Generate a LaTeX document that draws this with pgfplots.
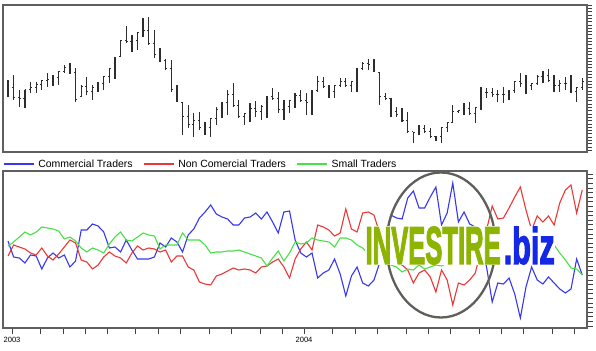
\documentclass[border=0pt]{standalone}
\usepackage{fontspec}
\setmainfont{Liberation Sans}
\newfontfamily\wmfont[FakeBold=3]{Liberation Sans Bold}
\usepackage{graphicx}
\usepackage{pgfplots}
\pgfplotsset{compat=1.18}
\usepackage{pgfplotstable}

\definecolor{framecol}{RGB}{95,95,95}
\definecolor{barcol}{RGB}{45,45,45}
\definecolor{cblue}{RGB}{55,55,240}
\definecolor{cred}{RGB}{235,55,55}
\definecolor{cgreen}{RGB}{70,225,70}
\definecolor{ellcol}{RGB}{95,95,90}
\definecolor{wmgreen}{RGB}{140,180,0}
\definecolor{wmblue}{RGB}{20,40,230}

\pgfplotstableread{
k o h l c
0 60 72 55 64
1 64 77 52 54
2 54 62 45 53
3 53 62 44 62
4 62 70 59 64
5 64 70 59 67
6 67 72 62 71
7 71 79 65 72
8 72 77 66 74
9 74 81 67 80
10 80 87 79 84
11 84 89 78 79
12 79 84 50 52
13 55 67 55 65
14 65 75 57 60
15 60 67 52 64
16 64 70 60 68
17 68 76 62 75
18 75 84 69 83
19 83 95 73 94
20 95 112 95 111
21 111 126 109 110
22 110 117 100 111
23 111 120 102 119
24 119 134 115 121
25 121 135 107 108
26 108 122 94 97
27 97 104 90 91
28 91 93 82 83
29 83 92 60 62
30 62 67 50 51
31 49 49 17 35
32 35 47 24 27
33 27 39 15 31
34 31 40 22 24
35 24 30 17 24
36 24 34 15 33
37 33 45 27 42
38 42 50 34 49
39 49 62 37 57
40 57 69 45 46
41 46 52 34 35
42 35 39 27 38
43 38 49 30 43
44 43 51 35 40
45 40 47 32 45
46 45 56 34 55
47 55 64 52 53
48 53 60 39 42
49 42 52 32 45
50 45 52 39 51
51 51 59 44 56
52 56 62 50 51
53 51 59 37 49
54 49 62 37 61
55 61 76 60 70
56 70 75 64 65
57 65 67 54 60
58 60 67 54 66
59 66 74 65 70
60 70 74 65 66
61 66 71 60 70
62 70 84 60 83
63 83 90 82 88
64 88 93 82 87
65 87 93 80 81
66 79 79 47 55
67 55 59 52 53
68 53 54 35 40
69 40 45 35 37
70 37 44 30 31
71 31 40 19 20
72 20 20 9 19
73 19 27 17 23
74 23 27 19 20
75 20 24 14 15
76 15 16 11 15
77 15 25 9 24
78 24 30 20 29
79 29 47 29 40
80 40 42 39 41
81 41 49 37 43
82 43 50 37 38
83 38 45 29 44
84 44 65 42 59
85 59 64 54 59
86 59 64 55 57
87 57 62 50 57
88 57 65 49 57
89 57 62 52 61
90 61 71 59 70
91 70 79 65 68
92 68 77 58 66
93 66 69 62 68
94 68 77 67 75
95 75 81 69 76
96 76 83 70 71
97 71 77 60 66
98 66 72 60 68
99 68 75 62 68
100 68 77 59 60
101 60 65 50 64
102 64 74 62 70
}\ohlc

\pgfplotstableread{
k v
0 87
1 71
2 70
3 65
4 73
5 72
6 59
7 70
8 75
9 70
10 73
11 61
12 67
13 98
14 98
15 104
16 102
17 96
18 80
19 81
20 76
21 88
22 78
23 69
24 69
25 69
26 71
27 85
28 81
29 90
30 86
31 76
32 93
33 99
34 110
35 116
36 123
37 114
38 111
39 109
40 103
41 103
42 110
43 111
44 115
45 109
46 116
47 106
48 95
49 116
50 117
51 88
52 75
53 71
54 75
55 50
56 55
57 58
58 69
59 54
60 32
61 52
62 61
63 45
64 42
65 48
66 65
67 88
68 113
69 110
70 109
71 130
72 137
73 120
74 120
75 131
76 141
77 103
78 115
79 145
80 106
81 116
82 104
83 101
84 85
85 61
86 26
87 45
88 44
89 50
90 34
91 10
92 41
93 61
94 48
95 44
96 51
97 45
98 39
99 35
100 39
101 69
102 53
}\commercial

\pgfplotstableread{
k v
0 72
1 83
2 81
3 79
4 75
5 73
6 80
7 72
8 68
9 74
10 81
11 88
12 85
13 68
14 66
15 59
16 63
17 71
18 76
19 72
20 70
21 65
22 75
23 82
24 78
25 80
26 79
27 76
28 78
29 66
30 72
31 72
32 61
33 58
34 46
35 44
36 43
37 52
38 54
39 57
40 60
41 58
42 59
43 58
44 55
45 61
46 62
47 66
48 69
49 61
50 50
51 69
52 79
53 86
54 78
55 103
56 101
57 98
58 92
59 95
60 119
61 99
62 96
63 115
64 116
65 113
66 95
67 83
68 73
69 66
70 63
71 58
72 45
73 55
74 58
75 51
76 36
77 58
78 48
79 23
80 45
81 43
82 48
83 55
84 78
85 98
86 122
87 109
88 110
89 120
90 131
91 141
92 118
93 98
94 112
95 106
96 112
97 103
98 125
99 138
100 143
101 115
102 138
}\noncomm

\pgfplotstableread{
k v
0 82
1 86
2 91
3 96
4 93
5 96
6 101
7 100
8 99
9 97
10 89
11 91
12 87
13 80
14 76
15 80
16 78
17 75
18 84
19 91
20 96
21 88
22 87
23 91
24 95
25 93
26 92
27 79
28 83
29 83
30 83
31 95
32 88
33 88
34 88
35 83
36 75
37 76
38 76
39 77
40 77
41 78
42 76
43 74
44 72
45 70
46 62
47 70
48 77
49 67
50 75
51 86
52 84
53 85
54 90
55 88
56 87
57 86
58 81
59 90
60 90
61 88
62 83
63 80
64 74
65 70
66 67
67 65
68 63
69 61
70 56
71 59
72 58
73 63
74 59
75 61
76 63
77 62
78 65
79 64
80 67
81 68
82 70
83 72
84 74
85 76
86 77
87 78
88 80
89 79
90 81
91 82
92 81
93 83
94 84
95 83
96 84
97 83
98 75
99 68
100 60
101 59
102 53
}\smalltr

\begin{document}
\begin{tikzpicture}
\path[use as bounding box] (0bp,0bp) rectangle (596bp,351bp);
% ---------- top panel: price bars ----------
\begin{axis}[
  at={(3bp,199bp)}, anchor=south west,
  scale only axis, width=584bp, height=147bp,
  xmin=-0.89, xmax=102.84, ymin=0, ymax=147,
  xtick=\empty,
  ytick={1.6,4.9,...,147}, yticklabels=\empty,
  ytick pos=right, tick align=outside,
  major tick length=4.5bp,
  tick style={black!75, line width=0.9bp},
  axis line style={framecol, line width=1.3bp},
]
\addplot[barcol, line width=1.3bp, quiver={u=0, v=\thisrow{h}-\thisrow{l}}] table[x=k, y=l] {\ohlc};
\addplot[barcol, line width=1bp, quiver={u=-0.25, v=0}] table[x=k, y=o] {\ohlc};
\addplot[barcol, line width=1bp, quiver={u=0.25, v=0}] table[x=k, y=c] {\ohlc};
\end{axis}
% ---------- bottom panel: traders ----------
\begin{axis}[
  at={(3bp,23bp)}, anchor=south west,
  scale only axis, width=584bp, height=157bp,
  xmin=-0.89, xmax=102.84, ymin=0, ymax=157,
  clip=false,
  xtick={0.71,5.68,9.77,13.68,17.58,22.56,26.64,30.55,35.7,39.61,44.76,48.67,52.58,57.55,61.63,65.54,70.69,74.6,78.51,83.66,87.57,91.47,96.63,100.53},
  xticklabels={2003,,,,,,,,,,,,2004,,,,,,,,,,,},
  xtick pos=left,
  ytick={2,6.6,...,157}, yticklabels=\empty,
  ytick pos=right, tick align=outside,
  major tick length=5.5bp,
  tick style={black!75, line width=0.9bp},
  axis line style={framecol, line width=1.3bp},
  xticklabel style={font=\fontsize{7.6}{9}\selectfont},
  legend columns=3,
  legend style={at={(0,1)}, anchor=west, xshift=0bp, yshift=7bp,
    draw=none, fill=none, inner sep=0pt, font=\fontsize{10.5}{12}\selectfont,
    nodes={inner xsep=4bp, inner ysep=0pt},
    /tikz/every even column/.append style={column sep=6.5bp}},
  legend image code/.code={\draw[#1] (0bp,0bp) -- (30bp,0bp);},
]
\addplot[cblue, line width=1.1bp] table[x=k, y=v] {\commercial};
\addlegendentry{Commercial Traders}
\addplot[cred, line width=1.1bp] table[x=k, y=v] {\noncomm};
\addlegendentry{Non Comercial Traders}
\addplot[cgreen, line width=1.1bp] table[x=k, y=v] {\smalltr};
\addlegendentry{Small Traders}
\draw[ellcol, line width=2.3bp] (axis cs:76.9,83) ellipse [x radius=54.5bp, y radius=72.5bp];
\node[fill=white, inner sep=0.5bp, anchor=south west] at (axis cs:63.4,63)
  {\wmfont\resizebox{135bp}{37bp}{\textcolor{wmgreen}{INVESTIRE}}\hspace{3bp}\resizebox{51bp}{37bp}{\textcolor{wmblue}{.biz}}};
\end{axis}
\end{tikzpicture}
\end{document}
